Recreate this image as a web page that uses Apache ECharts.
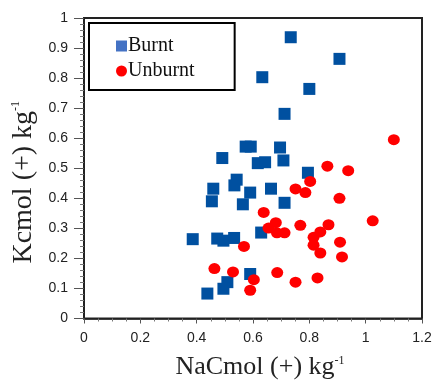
<!DOCTYPE html>
<html>
<head>
<meta charset="utf-8">
<script src="https://cdn.jsdelivr.net/npm/echarts@6/dist/echarts.min.js"></script>
<style>
html,body{margin:0;padding:0;background:#fff;}
#chart{width:434px;height:383px;}
</style>
</head>
<body>
<div id="chart"></div>
<script>
// Burnt samples: Na (x) and K (y), cmol(+) kg-1
const burntNa = [0.734, 0.907, 0.633, 0.800, 0.712, 0.574, 0.592, 0.696, 0.491, 0.617, 0.643, 0.708, 0.795, 0.542, 0.534, 0.459, 0.590, 0.664, 0.454, 0.564, 0.712, 0.629, 0.386, 0.473, 0.495, 0.533, 0.590, 0.509, 0.495, 0.438];
const burntK  = [0.936, 0.864, 0.803, 0.764, 0.681, 0.572, 0.572, 0.569, 0.534, 0.517, 0.520, 0.526, 0.485, 0.462, 0.443, 0.432, 0.419, 0.432, 0.390, 0.380, 0.385, 0.286, 0.264, 0.266, 0.259, 0.268, 0.148, 0.121, 0.099, 0.083];
// Unburnt samples
const unburntNa = [1.100, 0.864, 0.938, 0.803, 0.751, 0.786, 0.907, 0.638, 1.025, 0.681, 0.655, 0.685, 0.712, 0.768, 0.868, 0.839, 0.815, 0.815, 0.909, 0.839, 0.916, 0.568, 0.463, 0.529, 0.686, 0.829, 0.751, 0.603, 0.590];
const unburntK  = [0.595, 0.507, 0.492, 0.456, 0.431, 0.419, 0.400, 0.353, 0.325, 0.319, 0.301, 0.285, 0.285, 0.310, 0.312, 0.288, 0.270, 0.244, 0.254, 0.218, 0.205, 0.240, 0.166, 0.155, 0.153, 0.135, 0.121, 0.129, 0.094];
const seriesNames = ['Burnt', 'Unburnt'];
const xTitle = 'NaCmol (+) kg';
const yTitle = 'Kcmol (+) kg';
const titleSup = '-1';

const zip = (a, b) => a.map((v, i) => [v, b[i]]);

const chart = echarts.init(document.getElementById('chart'), null, {renderer: 'canvas'});
const tickLabel = {fontFamily: 'Liberation Sans', fontSize: 14, color: '#222'};
const richFor = (size) => ({
  a: {fontFamily: 'Liberation Serif', fontSize: size, color: '#222'},
  s: {fontFamily: 'Liberation Serif', fontSize: 12, color: '#222', verticalAlign: 'top', padding: [0, 0, Math.round(size * 0.5), 0]}
});
chart.setOption({
  animation: false,
  backgroundColor: '#fff',
  grid: {left: 84, right: 12, top: 18, bottom: 64.5, show: true, borderColor: '#222', borderWidth: 2,
         backgroundColor: 'transparent', containLabel: false, outerBoundsMode: 'none'},
  legend: {
    orient: 'vertical', left: 89, top: 23,
    padding: [13, 40, 9, 27],
    itemGap: 5, itemWidth: 11, itemHeight: 11,
    borderColor: '#000', borderWidth: 2,
    textStyle: {fontFamily: 'Liberation Serif', fontSize: 20, color: '#111', padding: [0, 0, 0, -4]},
    data: [
      {name: seriesNames[0], icon: 'rect', itemStyle: {color: '#4472c4'}},
      {name: seriesNames[1], icon: 'circle', itemStyle: {color: '#ff0000'}}
    ]
  },
  xAxis: {
    type: 'value', min: 0, max: 1.2, interval: 0.2,
    name: '{a|' + xTitle + '}{s|' + titleSup + '}', nameLocation: 'middle', nameGap: 36,
    nameTextStyle: {rich: richFor(26), padding: [0, 0, 0, 14]},
    axisLine: {show: true, lineStyle: {color: '#222', width: 1.5}},
    axisTick: {show: true, length: 5, lineStyle: {color: '#555'}},
    minorTick: {show: true, splitNumber: 4, length: 3, lineStyle: {color: '#777'}},
    splitLine: {show: false},
    axisLabel: Object.assign({margin: 13}, tickLabel)
  },
  yAxis: {
    type: 'value', min: 0, max: 1, interval: 0.1,
    name: '{a|' + yTitle + '}{s|' + titleSup + '}', nameLocation: 'middle', nameGap: 46, nameRotate: 90,
    nameTextStyle: {rich: richFor(28), padding: [0, 28, 0, 0]},
    axisLine: {show: true, lineStyle: {color: '#222', width: 1.5}},
    axisTick: {show: true, length: 10, lineStyle: {color: '#555'}},
    minorTick: {show: true, splitNumber: 5, length: 4, lineStyle: {color: '#777'}},
    splitLine: {show: false},
    axisLabel: Object.assign({margin: 16}, tickLabel)
  },
  series: [
    {name: seriesNames[0], type: 'scatter', symbol: 'rect', symbolSize: 12, data: zip(burntNa, burntK),
     itemStyle: {color: '#0050a0', opacity: 1}},
    {name: seriesNames[1], type: 'scatter', symbol: 'circle', symbolSize: [12, 11], data: zip(unburntNa, unburntK),
     itemStyle: {color: '#ff0000', opacity: 1}}
  ]
});
</script>
</body>
</html>
